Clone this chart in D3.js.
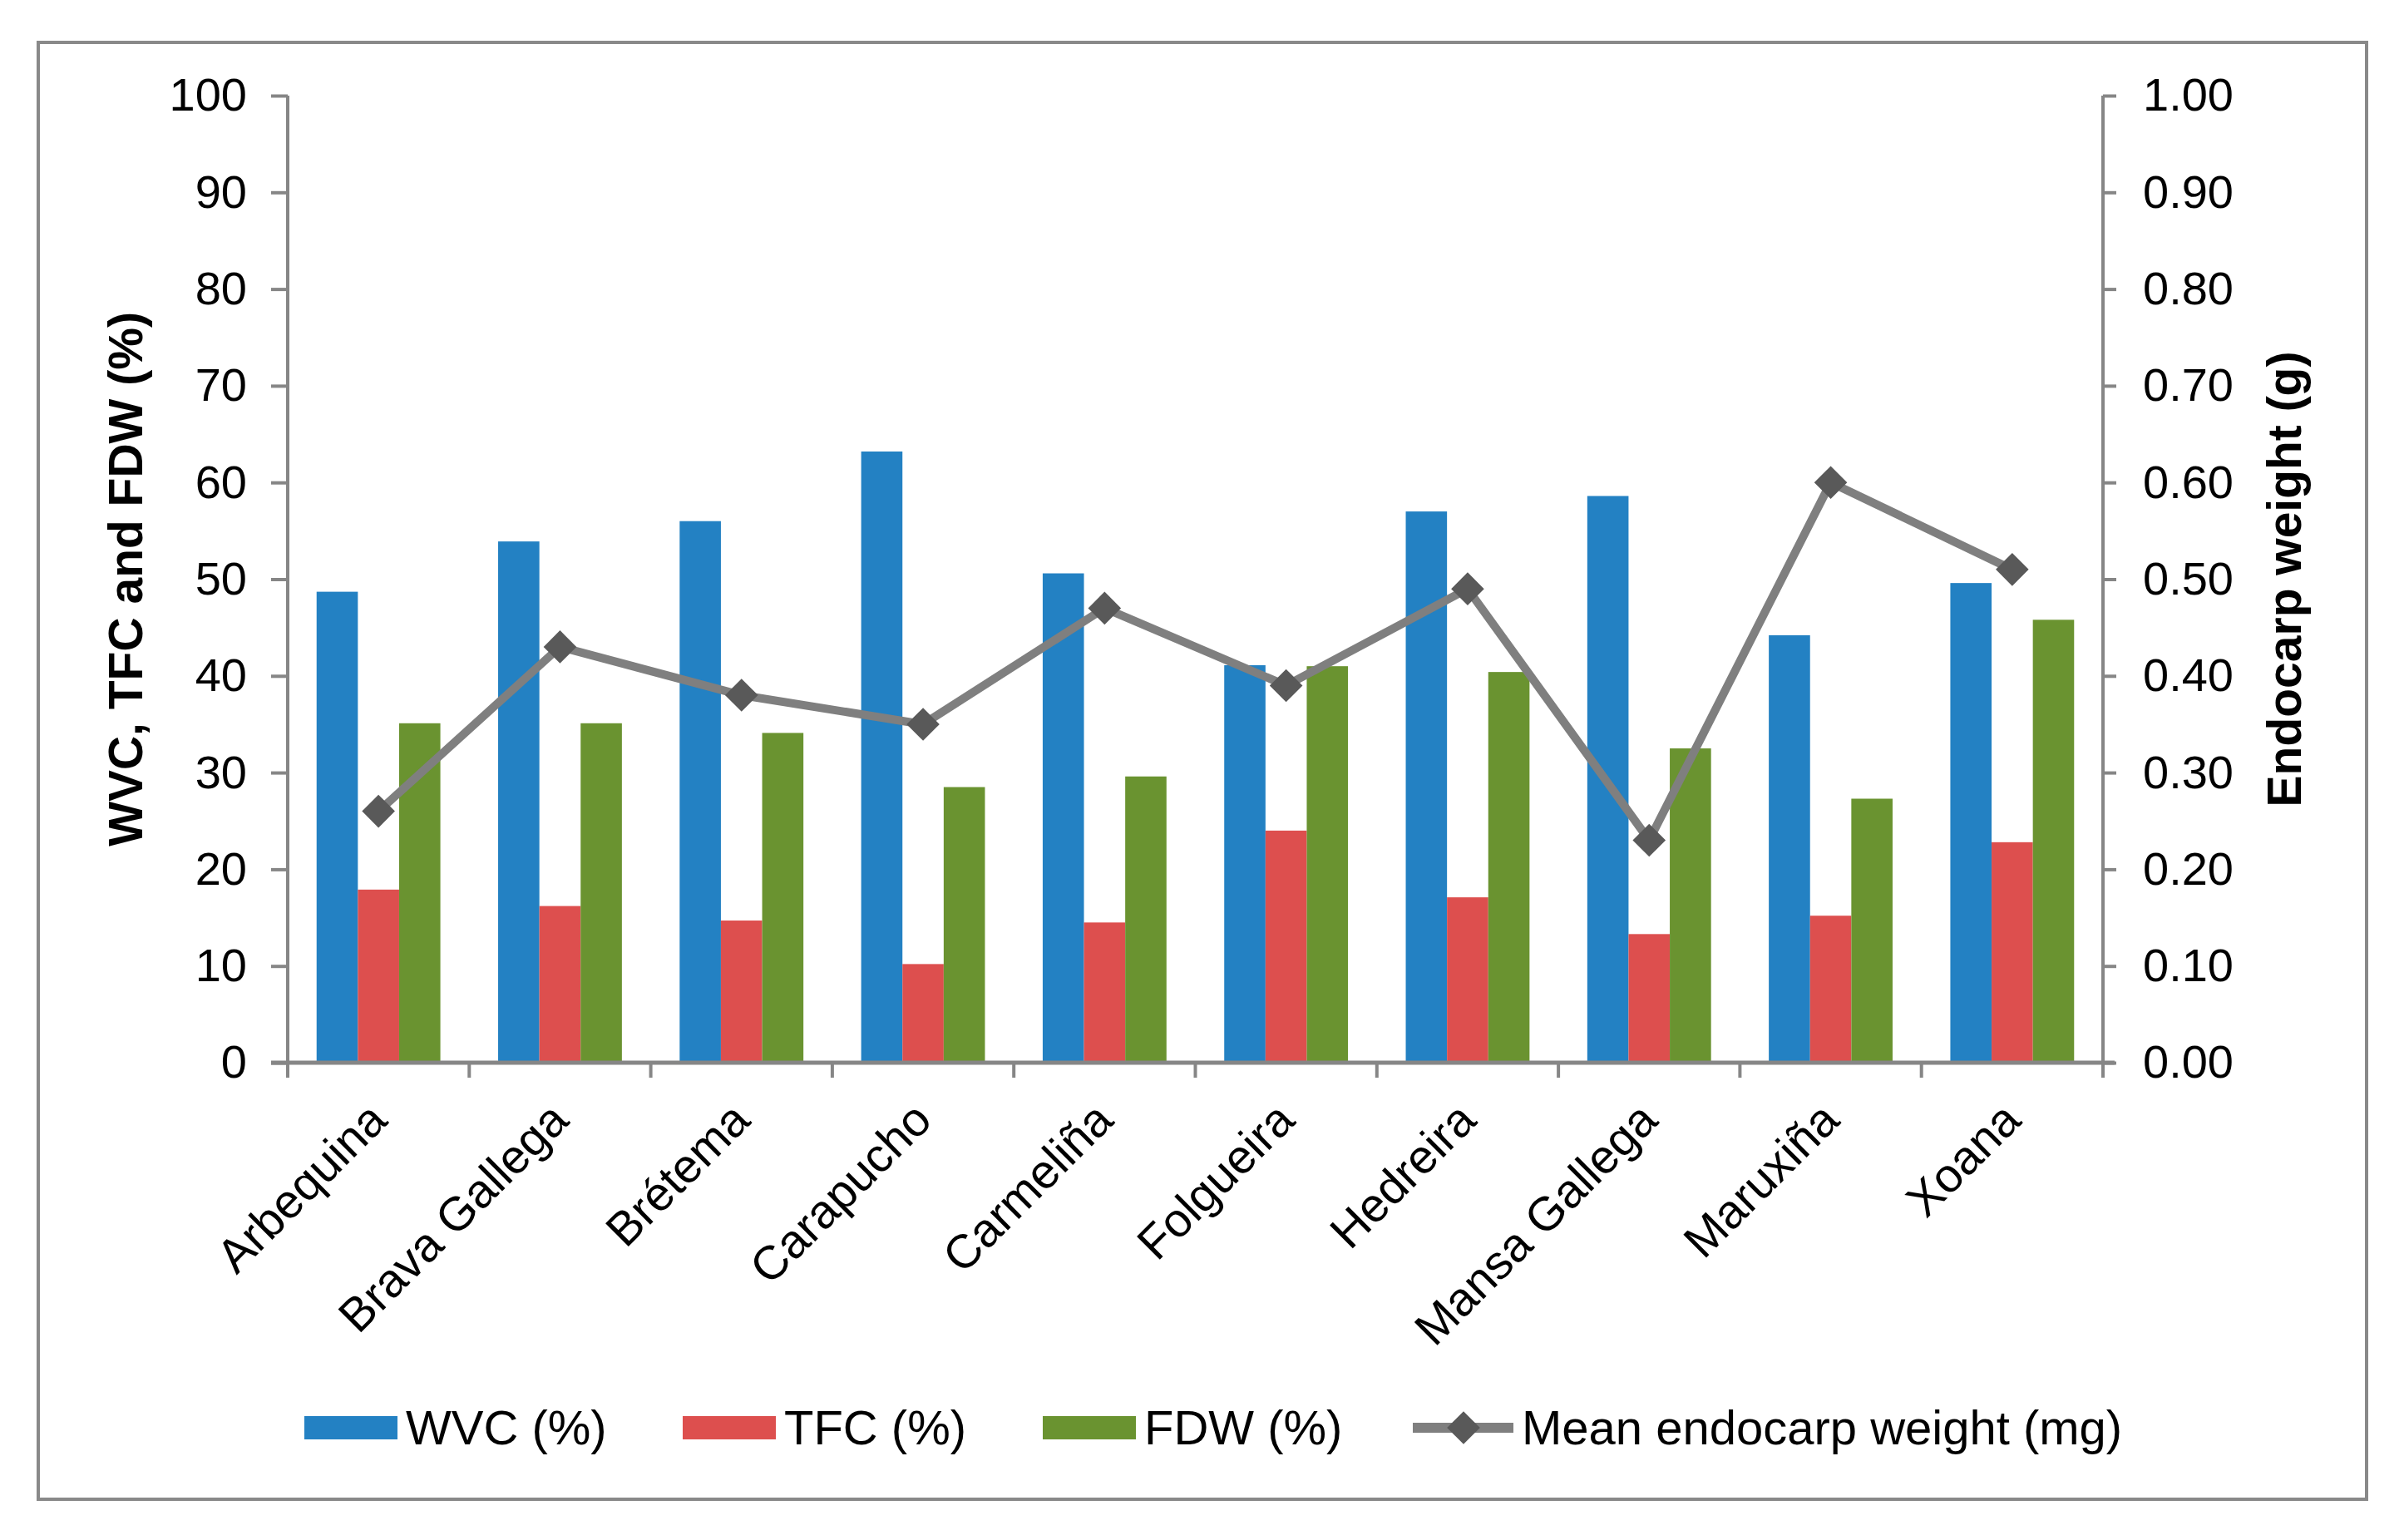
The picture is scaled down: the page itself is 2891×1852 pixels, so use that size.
<!DOCTYPE html>
<html>
<head>
<meta charset="utf-8">
<script src="https://cdn.jsdelivr.net/npm/d3@7"></script>
<style>
  body { margin: 0; background: #fff; }
  text { font-family: "Liberation Sans", Arial, sans-serif; fill: #000; }
</style>
</head>
<body>
<script>
const W = 2891, H = 1852;

// data
const cultivars = ["Arbequina", "Brava Gallega", "Brétema", "Carapucho", "Carmeliña",
    "Folgueira", "Hedreira", "Mansa Gallega", "Maruxiña", "Xoana"];
const wvc = [48.7, 53.9, 56.0, 63.2, 50.6, 41.1, 57.0, 58.6, 44.2, 49.6];
const tfc = [17.9, 16.2, 14.7, 10.2, 14.5, 24.0, 17.1, 13.3, 15.2, 22.8];
const fdw = [35.1, 35.1, 34.1, 28.5, 29.6, 41.0, 40.4, 32.5, 27.3, 45.8];
const endocarp = [0.26, 0.43, 0.38, 0.35, 0.47, 0.39, 0.49, 0.23, 0.60, 0.51];

const seriesNames = ["WVC (%)", "TFC (%)", "FDW (%)"];
const lineName = "Mean endocarp weight (mg)";
const leftTicks = [0, 10, 20, 30, 40, 50, 60, 70, 80, 90, 100];
const rightTicks = [0, 0.1, 0.2, 0.3, 0.4, 0.5, 0.6, 0.7, 0.8, 0.9, 1.0];

const colors = ["#2381C3", "#DD4F4E", "#6A9330"];
const axisColor = "#868686";

// plot area
const pLeft = 346, pRight = 2529, pTop = 115, pBottom = 1278;

const svg = d3.select("body").append("svg")
    .attr("width", W)
    .attr("height", H);

// outer frame
svg.append("rect")
    .attr("x", 46).attr("y", 51)
    .attr("width", 2800).attr("height", 1752)
    .attr("fill", "#fff")
    .attr("stroke", "#898989")
    .attr("stroke-width", 4);

const x = d3.scaleBand()
    .domain(cultivars)
    .range([pLeft, pRight]);

const xInner = d3.scaleBand()
    .domain(seriesNames)
    .range([0, x.bandwidth()])
    .paddingOuter(0.7)
    .paddingInner(0);

const yL = d3.scaleLinear().domain([0, 100]).range([pBottom, pTop]);
const yR = d3.scaleLinear().domain([0, 1]).range([pBottom, pTop]);

// bars
const barData = [wvc, tfc, fdw];
barData.forEach((vals, si) => {
    svg.append("g").selectAll("rect")
        .data(vals)
        .enter()
        .append("rect")
        .attr("x", (d, i) => x(cultivars[i]) + xInner(seriesNames[si]))
        .attr("y", d => yL(d))
        .attr("width", xInner.bandwidth())
        .attr("height", d => yL(0) - yL(d))
        .attr("fill", colors[si]);
});

// left axis
const axL = svg.append("g")
    .attr("transform", "translate(" + pLeft + ",0)")
    .call(d3.axisLeft(yL).tickValues(leftTicks).tickSize(20).tickPadding(29).tickFormat(d3.format("d")));

// right axis
const axR = svg.append("g")
    .attr("transform", "translate(" + pRight + ",0)")
    .call(d3.axisRight(yR).tickValues(rightTicks).tickSize(16).tickPadding(32).tickFormat(d3.format(".2f")));

// x axis
const axX = svg.append("g")
    .attr("transform", "translate(0," + pBottom + ")")
    .call(d3.axisBottom(x).tickSize(0).tickFormat(""));
axX.selectAll(".xt")
    .data(cultivars.concat(["end"]))
    .enter()
    .append("line")
    .attr("x1", (d, i) => pLeft + i * x.step())
    .attr("x2", (d, i) => pLeft + i * x.step())
    .attr("y1", 0).attr("y2", 18);

[axL, axR, axX].forEach(a => {
    a.selectAll("path, line").attr("stroke", axisColor).attr("stroke-width", 4);
    a.select(".domain").attr("d", null);
    a.selectAll("text").attr("font-size", 56).attr("font-family", "Liberation Sans, Arial, sans-serif").attr("fill", "#000");
});
// axis lines drawn plainly so they reach the tick ends
svg.append("line").attr("x1", pLeft).attr("x2", pLeft).attr("y1", pTop).attr("y2", pBottom)
    .attr("stroke", axisColor).attr("stroke-width", 4);
svg.append("line").attr("x1", pRight).attr("x2", pRight).attr("y1", pTop).attr("y2", pBottom)
    .attr("stroke", axisColor).attr("stroke-width", 4);
svg.append("line").attr("x1", pLeft - 20).attr("x2", pRight + 14).attr("y1", pBottom).attr("y2", pBottom)
    .attr("stroke", axisColor).attr("stroke-width", 5);

// category labels, rotated
svg.append("g").selectAll("text")
    .data(cultivars)
    .enter()
    .append("text")
    .attr("transform", d => "translate(" + (x(d) + x.bandwidth() / 2 + 13) + "," + (pBottom + 72) + ") rotate(-45)")
    .attr("text-anchor", "end")
    .attr("font-size", 57)
    .text(d => d);

// line series
const line = d3.line()
    .x((d, i) => x(cultivars[i]) + x.bandwidth() / 2)
    .y(d => yR(d));

svg.append("path")
    .datum(endocarp)
    .attr("d", line)
    .attr("fill", "none")
    .attr("stroke", "#7F7F7F")
    .attr("stroke-width", 10)
    .attr("stroke-linejoin", "round");

const diamond = d3.symbol().type(d3.symbolDiamond2).size(1000);
svg.append("g").selectAll("path")
    .data(endocarp)
    .enter()
    .append("path")
    .attr("d", diamond)
    .attr("transform", (d, i) => "translate(" + (x(cultivars[i]) + x.bandwidth() / 2) + "," + yR(d) + ")")
    .attr("fill", "#595959");

// axis titles
svg.append("text")
    .attr("transform", "translate(171," + ((pTop + pBottom) / 2) + ") rotate(-90)")
    .attr("text-anchor", "middle")
    .attr("font-size", 57)
    .attr("font-weight", "bold")
    .text("WVC, TFC and FDW (%)");

svg.append("text")
    .attr("transform", "translate(2767," + ((pTop + pBottom) / 2) + ") rotate(-90)")
    .attr("text-anchor", "middle")
    .attr("font-size", 57)
    .attr("font-weight", "bold")
    .text("Endocarp weight (g)");

// legend
const legY = 1717;
const legX = [366, 821, 1254];
seriesNames.forEach((name, i) => {
    svg.append("rect")
        .attr("x", legX[i]).attr("y", legY - 14)
        .attr("width", 112).attr("height", 28)
        .attr("fill", colors[i]);
    svg.append("text")
        .attr("x", legX[i] + 122).attr("y", legY)
        .attr("dy", "0.35em")
        .attr("font-size", 58)
        .text(name);
});
svg.append("line")
    .attr("x1", 1699).attr("x2", 1820)
    .attr("y1", legY).attr("y2", legY)
    .attr("stroke", "#7F7F7F").attr("stroke-width", 12);
svg.append("path")
    .attr("d", diamond)
    .attr("transform", "translate(1760," + legY + ")")
    .attr("fill", "#595959");
svg.append("text")
    .attr("x", 1830).attr("y", legY)
    .attr("dy", "0.35em")
    .attr("font-size", 58)
    .text(lineName);
</script>
</body>
</html>
